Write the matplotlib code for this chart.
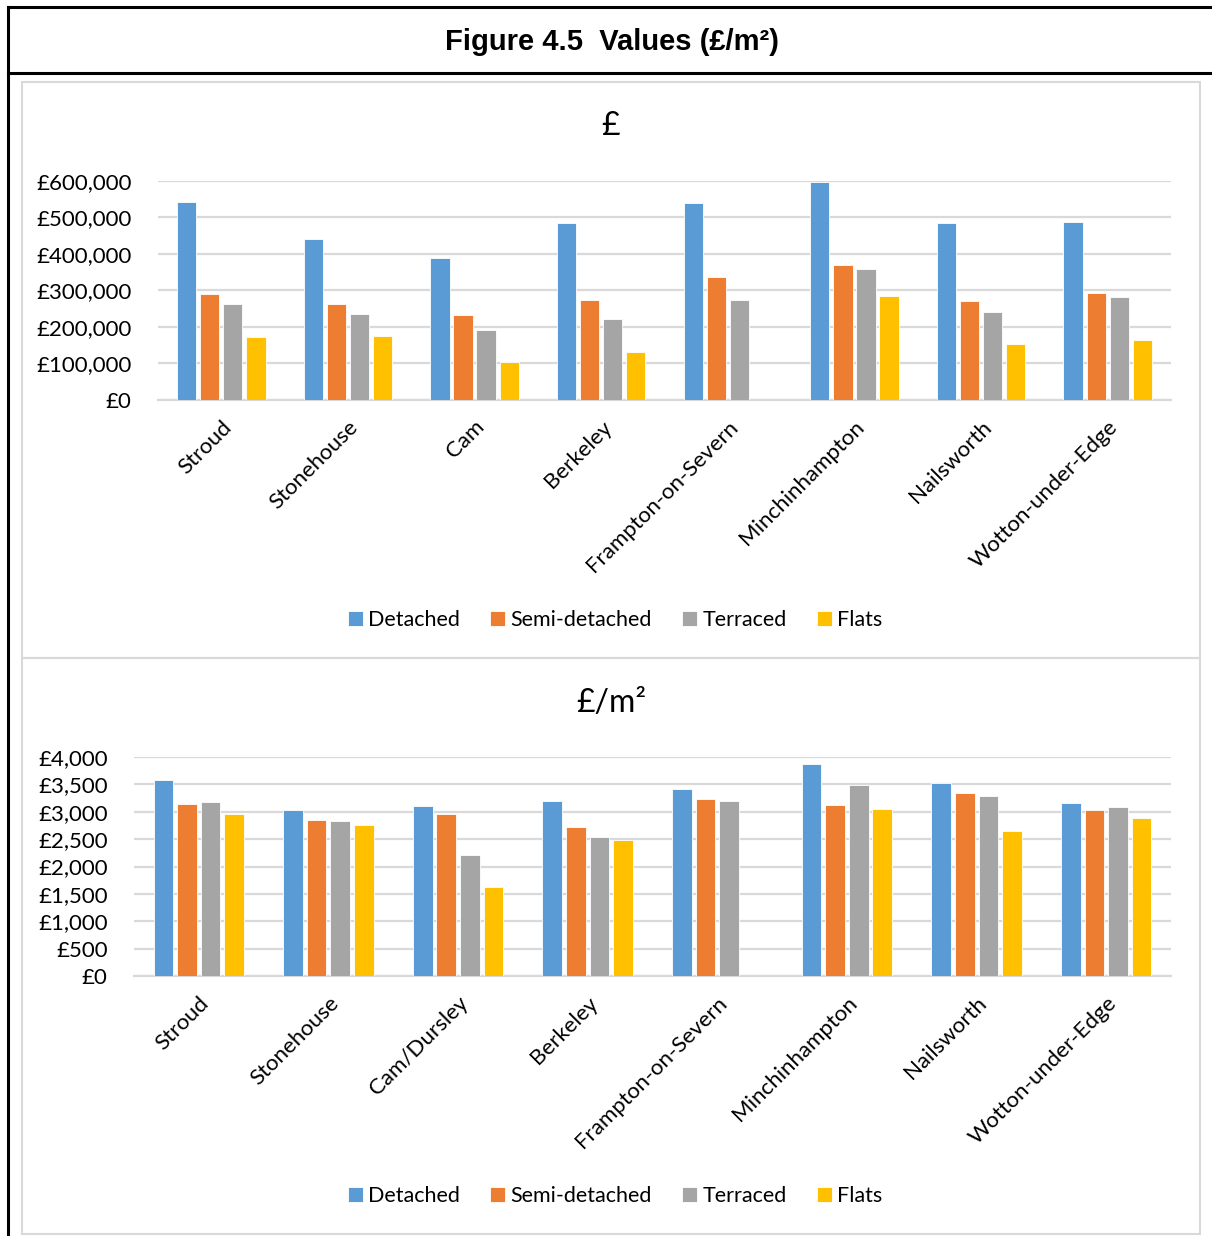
import matplotlib
matplotlib.use("Agg")
import matplotlib.pyplot as plt
import numpy as np
from matplotlib.patches import Rectangle
from matplotlib.lines import Line2D
from matplotlib.ticker import FuncFormatter

plt.rcParams['font.family'] = ['Lato', 'DejaVu Sans']

# Average values by settlement and house type
places_price = ["Stroud", "Stonehouse", "Cam", "Berkeley", "Frampton-on-Severn",
                "Minchinhampton", "Nailsworth", "Wotton-under-Edge"]
places_sqm = ["Stroud", "Stonehouse", "Cam/Dursley", "Berkeley", "Frampton-on-Severn",
              "Minchinhampton", "Nailsworth", "Wotton-under-Edge"]
house_types = ["Detached", "Semi-detached", "Terraced", "Flats"]

price_detached = [542000, 440000, 388000, 485000, 539000, 598000, 485000, 487000]
price_semi = [290000, 263000, 232000, 275000, 338000, 370000, 270000, 294000]
price_terraced = [263000, 236000, 193000, 221000, 273000, 360000, 242000, 283000]
price_flats = [173000, 176000, 103000, 131000, np.nan, 286000, 154000, 165000]

sqm_detached = [3585, 3023, 3104, 3200, 3415, 3877, 3530, 3164]
sqm_semi = [3146, 2847, 2950, 2713, 3237, 3127, 3341, 3023]
sqm_terraced = [3177, 2822, 2207, 2542, 3200, 3493, 3287, 3078]
sqm_flats = [2950, 2762, 1628, 2487, np.nan, 3049, 2640, 2890]

colors = ["#5B9BD5", "#ED7D31", "#A5A5A5", "#FFC000"]
grid_col = "#D9D9D9"

W, H = 1212, 1236
fig = plt.figure(figsize=(W / 100, H / 100), dpi=100)


def fx(px):
    return px / W


def fy(py):
    return 1 - py / H


# Outer frame and title band
for (x0, y0, x1, y1) in [(8, 7, W, 7), (8, 7, 8, H), (8, 73, W, 73)]:
    fig.add_artist(Line2D([fx(x0), fx(x1)], [fy(y0), fy(y1)], color="black", lw=2.2))
fig.text(fx(612), fy(42), "Figure 4.5  Values (£/m²)", ha="center", va="center",
         fontsize=21, fontweight="bold", family="Liberation Sans")

# Chart panels
for (top, bot) in [(82, 658), (658, 1234)]:
    fig.add_artist(Rectangle((fx(22), fy(bot)), fx(1200) - fx(22), fy(top) - fy(bot),
                             fill=False, edgecolor=grid_col, lw=1.5))


def draw_panel(rect, cats, series, ymax, step, fmt, title, title_y, legend_y):
    ax = fig.add_axes(rect)
    n = len(cats)
    x = np.arange(n)
    pitch = 0.182
    for i, (vals, c, lab) in enumerate(zip(series, colors, house_types)):
        ax.bar(x + (i - 1.5) * pitch, vals, width=0.152, color=c, label=lab,
               edgecolor="white", linewidth=0.6, zorder=3)
    ax.set_xlim(-0.5, n - 0.5)
    ax.set_ylim(0, ymax)
    ax.set_yticks(np.arange(0, ymax + step / 2, step))
    ax.yaxis.set_major_formatter(FuncFormatter(fmt))
    ax.grid(axis="y", color=grid_col, lw=1.6, zorder=0)
    ax.set_axisbelow(True)
    for s in ["top", "right", "left"]:
        ax.spines[s].set_visible(False)
    ax.spines["bottom"].set_color(grid_col)
    ax.spines["bottom"].set_linewidth(1.6)
    ax.tick_params(axis="both", length=0, labelsize=16, colors="#000000")
    ax.tick_params(axis="y", pad=19)
    ax.set_xticks(x)
    ax.set_xticklabels(cats, rotation=45, ha="right", rotation_mode="anchor", fontsize=16)
    ax.tick_params(axis="x", pad=12)
    fig.text(fx(611), fy(title_y), title, ha="center", va="center", fontsize=23)
    handles, labels = ax.get_legend_handles_labels()
    fig.legend(handles, labels, loc="center", bbox_to_anchor=(fx(615), fy(legend_y)),
               ncol=4, frameon=False, fontsize=15.5, handlelength=0.7, handleheight=0.7,
               handletextpad=0.25, columnspacing=1.4)
    return ax


draw_panel([fx(158), fy(400), fx(1171) - fx(158), fy(181) - fy(400)], places_price,
           [price_detached, price_semi, price_terraced, price_flats], 600000, 100000,
           lambda v, p: f"£{int(v):,}", "£", 126, 620)

draw_panel([fx(134), fy(976), fx(1171) - fx(134), fy(757) - fy(976)], places_sqm,
           [sqm_detached, sqm_semi, sqm_terraced, sqm_flats], 4000, 500,
           lambda v, p: f"£{int(v):,}", "£/m²", 703, 1196)

fig.savefig("out.png", dpi=100)
